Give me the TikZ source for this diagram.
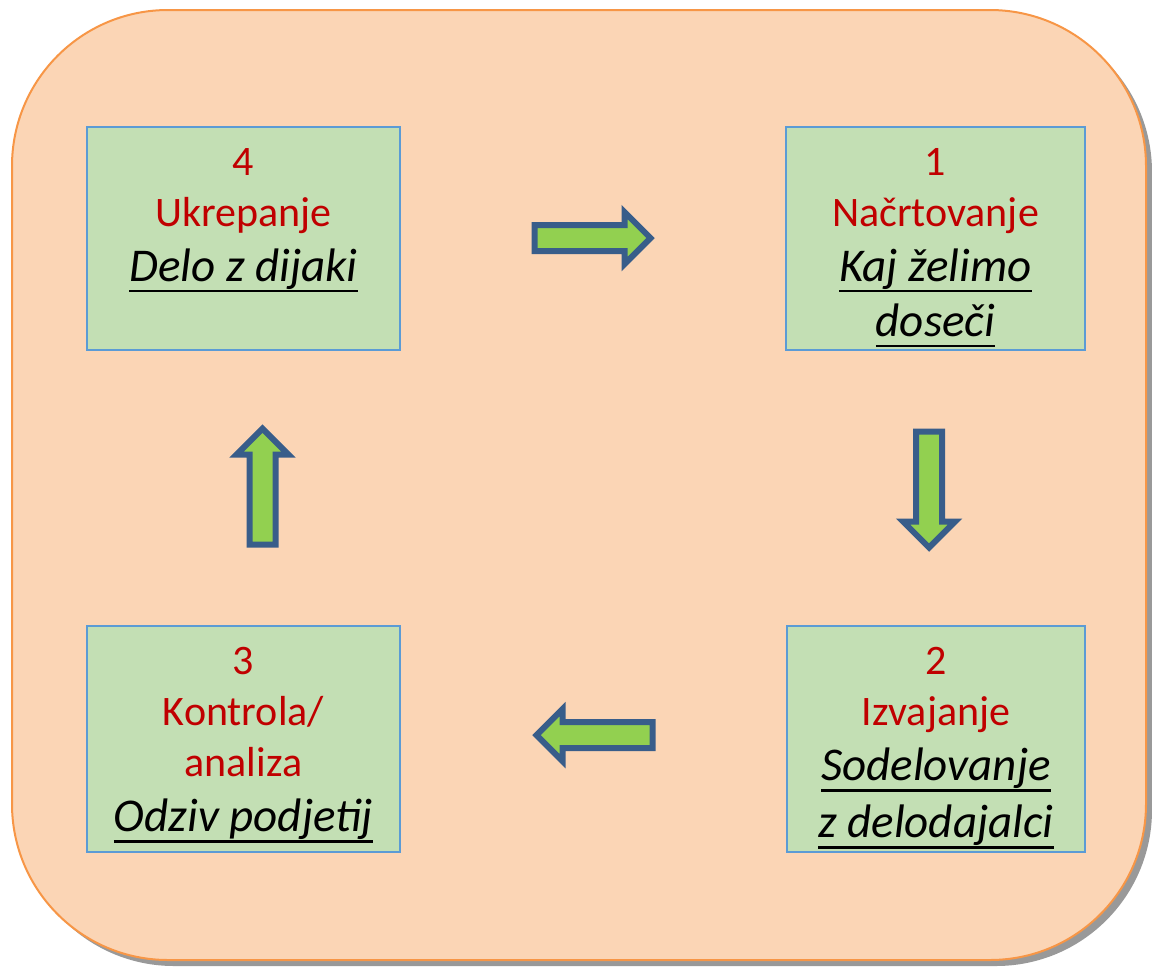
\documentclass[tikz,border=0pt]{standalone}
\usepackage{fontspec}
\setmainfont{Carlito}
\usetikzlibrary{positioning,shapes.arrows,shadows}

\definecolor{bgfill}{RGB}{251,213,181}
\definecolor{bgdraw}{RGB}{247,150,70}
\definecolor{boxfill}{RGB}{195,223,180}
\definecolor{boxdraw}{RGB}{91,155,213}
\definecolor{txtred}{RGB}{192,0,0}
\definecolor{arrowfill}{RGB}{146,208,80}
\definecolor{arrowdraw}{RGB}{56,93,138}

% italic underlined line
\newcommand{\phaseul}[1]{{\color{black}\fontsize{23.5}{26}\selectfont\setbox0\hbox{\textit{#1}}\rlap{\rule[-5.5pt]{\wd0}{1.3pt}}\box0}}

\begin{document}
\begin{tikzpicture}[x=0.5pt,y=-0.5pt,
  phase/.style={draw=boxdraw, line width=1pt, fill=boxfill, minimum height=111.5pt, inner sep=0pt},
  phasetext/.style={anchor=north, align=center, inner sep=0pt, text=txtred, font=\fontsize{21}{25.5}\selectfont, yshift=-11pt},
  blockarrow/.style={single arrow, draw=arrowdraw, fill=arrowfill, line width=3pt, minimum height=58pt,
    inner xsep=0pt, inner ysep=5pt, single arrow head extend=6.5pt},
  uparrow/.style={blockarrow, inner xsep=5pt, inner ysep=0pt}]

\useasboundingbox (0,0) rectangle (1152,966);

% background
\filldraw[fill=bgfill, draw=bgdraw, line width=1pt, rounded corners=78pt,
  drop shadow={shadow xshift=3pt, shadow yshift=-3pt, opacity=0.4, fill=black}] (12,10) rectangle (1146,960);

% the four phases
\node[phase, minimum width=156.5pt] (p4) at (243.5,238.5) {};
\node[phase, minimum width=149.5pt] (p1) at (935.5,238.5) {};
\node[phase, minimum width=156.5pt, minimum height=113pt] (p3) at (243.5,739) {};
\node[phase, minimum width=149pt, minimum height=113pt] (p2) at (936,739) {};

\node[phasetext] (t4) at (p4.north) {4\\Ukrepanje\\[2pt]\phaseul{Delo z dijaki}};
\node[phasetext] (t1) at (p1.north) {1\\Načrtovanje\\[2pt]\phaseul{Kaj želimo}\\[2pt]\phaseul{doseči}};
\node[phasetext] (t3) at (p3.north) {3\\Kontrola/\\analiza\\[2pt]\phaseul{Odziv podjetij}};
\node[phasetext] (t2) at (p2.north) {2\\Izvajanje\\[2pt]\phaseul{Sodelovanje}\\[3pt]\phaseul{z delodajalci}};

% arrows between phases
\node[blockarrow] (a41) at (586,238) {};
\node[uparrow, shape border rotate=270] (a12) at (929,483) {};
\node[blockarrow, shape border rotate=180] (a23) at (601,735) {};
\node[uparrow, shape border rotate=90] (a34) at (262.5,493) {};

\end{tikzpicture}
\end{document}
